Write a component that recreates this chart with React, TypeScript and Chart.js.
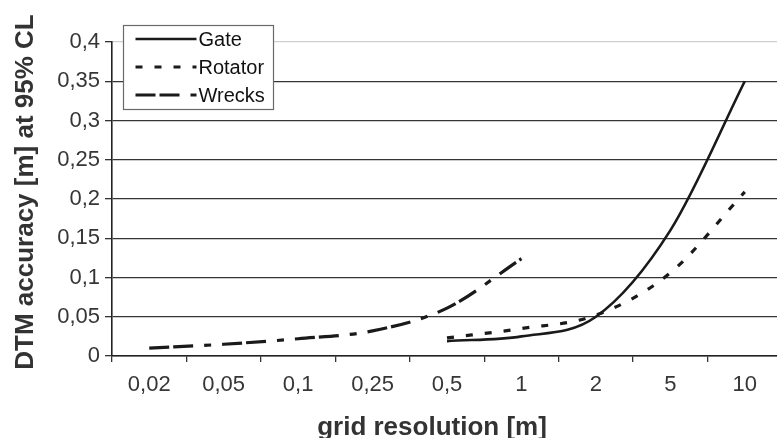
import React, { useEffect, useRef } from 'react';
import { Chart, registerables } from 'chart.js';

Chart.register(...registerables);

const categories = ['0,02', '0,05', '0,1', '0,25', '0,5', '1', '2', '5', '10'];
const gate = [null, null, null, null, 0.019, 0.025, 0.05, 0.16, 0.35];
const rotator = [null, null, null, null, 0.023, 0.035, 0.052, 0.106, 0.209];
const wrecks = [0.01, 0.015, 0.022, 0.032, 0.061, 0.124, null, null, null];
const yTickLabels = ['0', '0,05', '0,1', '0,15', '0,2', '0,25', '0,3', '0,35', '0,4'];
const seriesNames = ['Gate', 'Rotator', 'Wrecks'];
const xTitle = 'grid resolution [m]';
const yTitle = 'DTM accuracy [m] at 95% CL';

const FONT = '"Liberation Sans", Arial, Helvetica, sans-serif';
const LINE_COLOR = '#1a1a1a';
const dashes: number[][] = [[], [7, 12], [20, 4, 20, 11, 7, 11]];
const widths = [2.6, 3.2, 3.2];

const overlay = {
  id: 'overlay',
  afterDraw(chart: any) {
    const ctx = chart.ctx as CanvasRenderingContext2D;
    const area = chart.chartArea;
    ctx.save();
    // axis titles
    ctx.fillStyle = '#333';
    ctx.font = `bold 26px ${FONT}`;
    ctx.textAlign = 'center';
    ctx.textBaseline = 'alphabetic';
    ctx.fillText(xTitle, (area.left + area.right) / 2 - 15, area.bottom + 79);
    ctx.save();
    ctx.translate(33, (area.top + area.bottom) / 2 - 7);
    ctx.rotate(-Math.PI / 2);
    ctx.fillText(yTitle, 0, 0);
    ctx.restore();

    // legend box
    const bx = area.left + 11.5;
    const by = area.top - 16.5;
    const bw = 150;
    const bh = 84;
    ctx.fillStyle = '#ffffff';
    ctx.fillRect(bx, by, bw, bh);
    ctx.strokeStyle = '#6a6a6a';
    ctx.lineWidth = 1.2;
    ctx.strokeRect(bx, by, bw, bh);
    const rowsY = [38.5, 66.5, 94.5];
    ctx.font = `20px ${FONT}`;
    ctx.textAlign = 'left';
    ctx.textBaseline = 'alphabetic';
    seriesNames.forEach((name, i) => {
      const y = by + (rowsY[i] - 25);
      ctx.beginPath();
      ctx.setLineDash(dashes[i]);
      ctx.lineWidth = widths[i];
      ctx.strokeStyle = LINE_COLOR;
      ctx.moveTo(bx + 12, y);
      ctx.lineTo(bx + 73, y);
      ctx.stroke();
      ctx.setLineDash([]);
      ctx.fillStyle = '#111';
      ctx.fillText(name, bx + 75, y + 7);
    });
    ctx.restore();
  },
};

export default function App() {
  const ref = useRef<HTMLCanvasElement | null>(null);
  useEffect(() => {
    if (!ref.current) return;
    const mk = (label: string, data: (number | null)[], i: number) => ({
      label,
      data,
      borderColor: LINE_COLOR,
      backgroundColor: LINE_COLOR,
      borderWidth: widths[i],
      borderDash: dashes[i],
      pointRadius: 0,
      fill: false,
      cubicInterpolationMode: 'monotone' as const,
      tension: 0.4,
      borderCapStyle: 'butt' as const,
    });
    const chart = new Chart(ref.current, {
      type: 'line',
      data: {
        labels: categories,
        datasets: [mk(seriesNames[0], gate, 0), mk(seriesNames[1], rotator, 1), mk(seriesNames[2], wrecks, 2)],
      },
      options: {
        responsive: false,
        animation: false,
        devicePixelRatio: 1,
        layout: { padding: { top: 42, left: 0, right: 0, bottom: 0 } },
        plugins: { legend: { display: false }, tooltip: { enabled: false }, title: { display: false } },
        scales: {
          x: {
            type: 'category',
            offset: true,
            grid: {
              offset: true,
              drawOnChartArea: false,
              drawTicks: true,
              tickLength: 6,
              color: '#333',
              lineWidth: 1.3,
            },
            border: { display: true, color: '#222', width: 1.6 },
            ticks: {
              font: { family: FONT, size: 22 },
              color: '#363636',
              padding: 10,
              maxRotation: 0,
              autoSkip: false,
            },
            afterFit: (s: any) => {
              s.height = 82;
            },
          },
          y: {
            min: 0,
            max: 0.4,
            ticks: {
              stepSize: 0.05,
              font: { family: FONT, size: 22 },
              color: '#363636',
              padding: 5,
              callback: (v: any) => yTickLabels[Math.round(Number(v) / 0.05)],
            },
            grid: {
              color: (c: any) => (c.tick && c.tick.value > 0.39 ? '#cfcfcf' : '#353535'),
              tickColor: '#333',
              tickLength: 7,
              lineWidth: 1.3,
            },
            border: { display: true, color: '#222', width: 1.6 },
            afterFit: (s: any) => {
              s.width = 112;
            },
          },
        },
      },
      plugins: [overlay],
    });
    return () => chart.destroy();
  }, []);
  return (
    <div style={{ position: 'fixed', left: 0, top: 0, width: 777, height: 438, overflow: 'hidden', background: '#fff' }}>
      <canvas ref={ref} width={782} height={438} style={{ display: 'block', width: 782, height: 438 }} />
    </div>
  );
}
